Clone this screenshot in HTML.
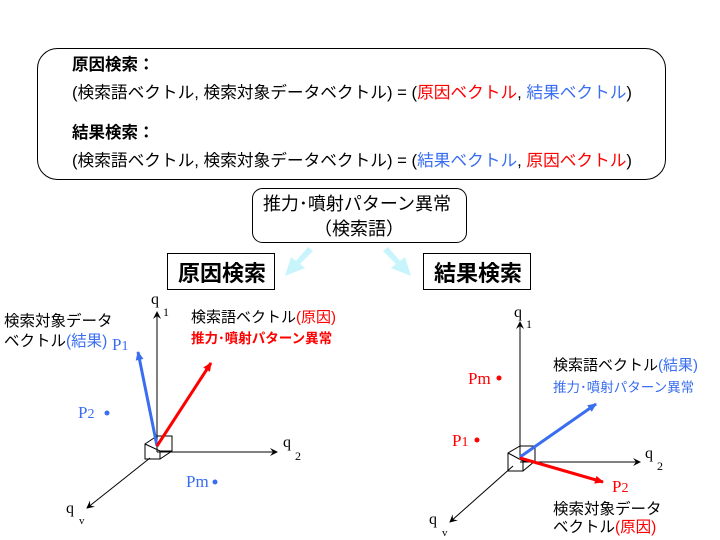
<!DOCTYPE html>
<html><head><meta charset="utf-8"><style>
body{margin:0;background:#fff}
svg{display:block}
text{font-family:"Liberation Sans","Noto Sans CJK JP",sans-serif}
.s{font-family:"Liberation Serif","Noto Sans CJK JP",serif}
</style></head><body>
<svg width="720" height="540" viewBox="0 0 720 540">
<defs>
<marker id="ak" markerWidth="8" markerHeight="8" refX="7" refY="4" orient="auto" markerUnits="userSpaceOnUse"><path d="M0,0 L8,4 L0,8 L3,4z" fill="#000"/></marker>
<marker id="ab" markerWidth="10" markerHeight="10" refX="8" refY="5" orient="auto" markerUnits="userSpaceOnUse"><path d="M0,1 L9,5 L0,9z" fill="#3a6ef0"/></marker>
<marker id="ar" markerWidth="10" markerHeight="10" refX="8" refY="5" orient="auto" markerUnits="userSpaceOnUse"><path d="M0,1 L9,5 L0,9z" fill="#f00"/></marker>
</defs>
<rect x="37.5" y="48.5" width="628" height="131" rx="20" fill="#fff" stroke="#000"/>
<text x="72" y="70" font-size="16.5" font-weight="bold">原因検索：</text>
<text x="72" y="98" font-size="16.5" textLength="560" lengthAdjust="spacingAndGlyphs">(検索語ベクトル, 検索対象データベクトル) = (<tspan fill="#f00">原因ベクトル</tspan>, <tspan fill="#3a6ef0">結果ベクトル</tspan>)</text>
<text x="72" y="138" font-size="16.5" font-weight="bold">結果検索：</text>
<text x="72" y="166" font-size="16.5" textLength="560" lengthAdjust="spacingAndGlyphs">(検索語ベクトル, 検索対象データベクトル) = (<tspan fill="#3a6ef0">結果ベクトル</tspan>, <tspan fill="#f00">原因ベクトル</tspan>)</text>
<rect x="252.5" y="188.5" width="214" height="54" rx="10" fill="#fff" stroke="#000"/>
<text x="357" y="210" font-size="18" text-anchor="middle">推力･噴射パターン異常</text>
<text x="359" y="235" font-size="18" text-anchor="middle">（検索語）</text>
<rect x="167.5" y="253.5" width="107" height="36" fill="#fff" stroke="#000"/>
<text x="222" y="281" font-size="22" font-weight="bold" text-anchor="middle">原因検索</text>
<rect x="423.5" y="253.5" width="107" height="36" fill="#fff" stroke="#000"/>
<text x="478" y="281" font-size="22" font-weight="bold" text-anchor="middle">結果検索</text>
<path d="M313,251 L300,264 L305,268 L285,276 L291,257 L296,261 L308,247z" fill="#c8f4fb"/>
<path d="M383,251 L396,264 L391,268 L411,276 L405,257 L400,261 L388,247z" fill="#c8f4fb"/>
<!-- left -->
<g stroke="#000" stroke-width="1" fill="none">
<line x1="157" y1="452" x2="157" y2="312" marker-end="url(#ak)"/>
<line x1="157" y1="452" x2="277" y2="452" marker-end="url(#ak)"/>
<line x1="150" y1="458" x2="87" y2="508" marker-end="url(#ak)"/>
<path d="M145,444 L157,436 L172,436 L172,451 L160,459 L145,459z M145,444 L160,451 L172,451 M160,451 L160,459"/>
</g>
<line x1="157" y1="446" x2="138" y2="352" stroke="#3a6ef0" stroke-width="3" marker-end="url(#ab)"/>
<line x1="157" y1="446" x2="211" y2="363" stroke="#f00" stroke-width="3" marker-end="url(#ar)"/>
<text class="s" x="151" y="304" font-size="16">q</text><text class="s" x="163" y="316" font-size="12">1</text>
<text class="s" x="283" y="447" font-size="16">q</text><text class="s" x="295" y="460" font-size="12">2</text>
<text class="s" x="66" y="513" font-size="16">q</text><text class="s" x="79" y="524" font-size="11">v</text>
<text class="s" x="112" y="350" font-size="17" fill="#3a6ef0">P<tspan font-size="14">1</tspan></text>
<text class="s" x="78" y="418" font-size="17" fill="#3a6ef0">P<tspan font-size="14">2</tspan></text>
<circle cx="107" cy="413" r="2.5" fill="#3a6ef0"/>
<text class="s" x="186" y="487" font-size="17" fill="#3a6ef0">Pm</text>
<circle cx="215" cy="482" r="2.5" fill="#3a6ef0"/>
<text x="4" y="326" font-size="15.5">検索対象データ</text>
<text x="4" y="346" font-size="15.5">ベクトル<tspan fill="#3a6ef0">(結果)</tspan></text>
<text x="191" y="322" font-size="15">検索語ベクトル<tspan fill="#f00">(原因)</tspan></text>
<text x="191" y="343" font-size="13.5" font-weight="bold" fill="#f00">推力･噴射パターン異常</text>
<!-- right -->
<g stroke="#000" stroke-width="1" fill="none">
<line x1="520" y1="458" x2="520" y2="322" marker-end="url(#ak)"/>
<line x1="520" y1="462" x2="640" y2="462" marker-end="url(#ak)"/>
<line x1="513" y1="466" x2="450" y2="522" marker-end="url(#ak)"/>
<path d="M508,453 L520,446 L535,446 L535,461 L523,471 L508,471z M508,453 L523,461 L535,461 M523,461 L523,471"/>
</g>
<line x1="520" y1="457" x2="596" y2="404" stroke="#3a6ef0" stroke-width="3" marker-end="url(#ab)"/>
<line x1="520" y1="458" x2="603" y2="482" stroke="#f00" stroke-width="3" marker-end="url(#ar)"/>
<text class="s" x="514" y="317" font-size="16">q</text><text class="s" x="526" y="328" font-size="12">1</text>
<text class="s" x="645" y="458" font-size="16">q</text><text class="s" x="657" y="470" font-size="12">2</text>
<text class="s" x="429" y="524" font-size="16">q</text><text class="s" x="442" y="536" font-size="11">v</text>
<text class="s" x="468" y="384" font-size="17" fill="#f00">Pm</text>
<circle cx="499" cy="378" r="2.5" fill="#f00"/>
<text class="s" x="452" y="446" font-size="17" fill="#f00">P<tspan font-size="14">1</tspan></text>
<circle cx="477" cy="440" r="2.5" fill="#f00"/>
<text class="s" x="612" y="492" font-size="17" fill="#f00">P<tspan font-size="14">2</tspan></text>
<text x="553" y="370" font-size="15">検索語ベクトル<tspan fill="#3a6ef0">(結果)</tspan></text>
<text x="553" y="392" font-size="13.5" fill="#3a6ef0">推力･噴射パターン異常</text>
<text x="553" y="514" font-size="15.5">検索対象データ</text>
<text x="553" y="532" font-size="15.5">ベクトル<tspan fill="#f00">(原因)</tspan></text>
</svg>
</body></html>
